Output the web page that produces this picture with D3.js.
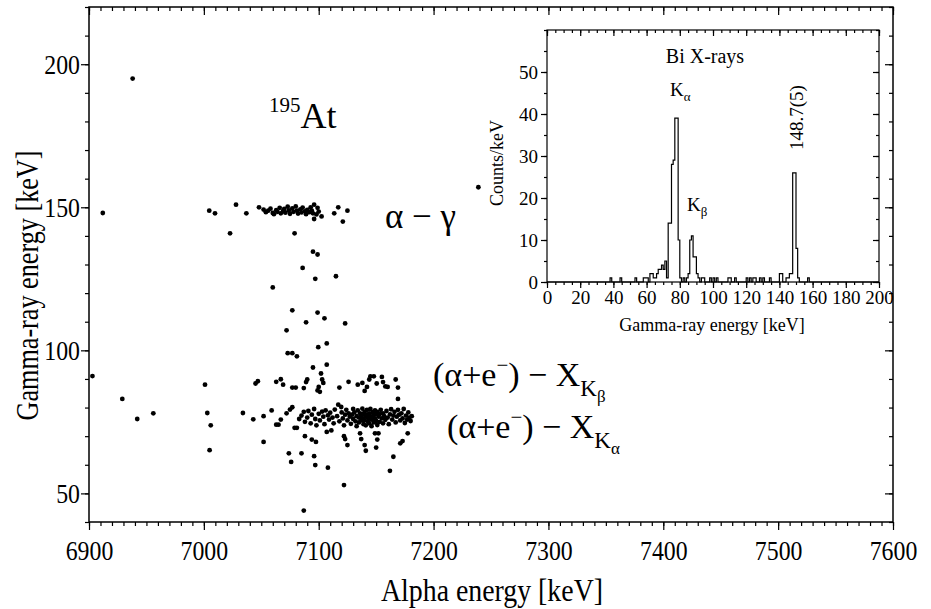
<!DOCTYPE html>
<html>
<head>
<meta charset="utf-8">
<script src="https://cdn.jsdelivr.net/npm/d3@7"></script>
<style>
  body { margin: 0; background: #fff; }
  svg { display: block; font-family: "Liberation Serif", "Times New Roman", serif; }
  .axis line { stroke: #000; stroke-width: 1.2; }
</style>
</head>
<body>
<svg id="chart" width="931" height="609"></svg>
<script>
// ---- data ----
// alpha-gamma coincidences: [alpha energy keV, gamma energy keV]
const isolatedEvents = [
  [6938, 195], [6912, 148], [6903, 91], [6929, 83], [6942, 76], [6956, 78], [7239, 157], [7087, 44]
];
const gammaLineEvents = [
  [7004.7, 148.8], [7009.7, 147.9], [7028, 150.9], [7037, 147.9], [7022.8, 140.9], [7048, 150],
  [7052, 149.2], [7054, 148.3], [7056, 148.8], [7058, 149.5], [7060, 148], [7061, 147.6],
  [7063, 149], [7064, 148.4], [7066, 149.8], [7067, 147.9], [7069, 148.7], [7070, 149.4],
  [7071, 148.1], [7073, 150.2], [7074, 148.9], [7075, 147.7], [7077, 149.6], [7078, 148.4],
  [7080, 150.3], [7081, 148.8], [7082, 147.8], [7084, 149.3], [7085, 148.2], [7086, 149.9],
  [7088, 148.6], [7089, 147.6], [7090, 149.1], [7092, 148.3], [7093, 150], [7094, 148.8],
  [7095, 147.9], [7096, 150.9], [7099, 149.8], [7102.5, 146.8], [7096, 145.9], [7117, 150],
  [7125, 148.8], [7113.5, 147.9], [7121, 145], [7100, 148.5], [7098, 147.5]
];
const middleEvents = [
  [7095, 134.5], [7099, 133.5], [7086, 128.8], [7097, 125], [7115, 125.9], [7060, 122],
  [7077, 114], [7099, 113.2], [7089, 109.8], [7105, 111.2], [7072, 107], [7123, 109.4],
  [7107, 102.4], [7079, 140.9], [7099.6, 101.1], [7073, 99], [7077, 99], [7081, 97.9],
  [7095, 94], [7107, 95], [7102, 91.9]
];
const kBetaEvents = [
  [7001, 88], [7045, 88.4], [7047, 89.2], [7063, 89], [7067, 89.9], [7069, 88], [7077, 87],
  [7080, 87], [7087, 86.8], [7089, 88.9], [7090, 89.8], [7099, 86], [7100, 87.2], [7103, 89.8],
  [7104, 88.6], [7101, 85.5], [7118, 87], [7126, 89], [7134, 88], [7138, 88.6], [7140, 85.8],
  [7142, 87.2], [7144, 89.8], [7145, 90.9], [7148, 90.9], [7150.5, 88.4], [7155, 90.7],
  [7156, 88.9], [7158, 87.4], [7160, 87.2], [7167, 89.8], [7169, 87], [7169, 83]
];
const kAlphaEvents = [
  [7003, 78.1], [7006, 73.8], [7034, 78.1], [7043, 75.9],
  [7052, 77], [7059, 79], [7063, 74], [7065, 74], [7067, 75.8], [7072, 78], [7075, 79.3],
  [7077, 80.1], [7079, 72.9], [7081, 72.9], [7083, 76], [7085, 77.2], [7087, 78.5], [7088, 75],
  [7090, 76.5], [7091, 78.8], [7093, 74.5], [7094, 77.5], [7096, 79.5], [7097, 76], [7098, 73.8],
  [7100, 77.8], [7101, 75.5], [7103, 78.6], [7104, 76.8], [7105, 74.2], [7106, 79], [7108, 77.3],
  [7109, 75.8], [7110, 78.2], [7112, 76.5], [7113, 74.5], [7114, 79.3], [7116, 77], [7117, 81],
  [7119.6, 80.2], [7118, 75.2], [7120, 78.3], [7121, 76.2], [7122, 73.8], [7123, 77.5],
  [7124, 79.2], [7125, 75.5], [7126, 78], [7127, 76.8], [7128, 74.3], [7129, 77.5], [7130, 79.5],
  [7130, 76], [7131, 78.3], [7132, 75.2], [7133, 77], [7133, 73.5], [7134, 79], [7135, 76.5],
  [7135, 74.8], [7136, 78], [7137, 77.2], [7137, 75.5], [7138, 79.6], [7138, 76.3], [7139, 74.2],
  [7139, 77.8], [7140, 75.5], [7140, 78.5], [7141, 76.8], [7141, 73.8], [7142, 77.5], [7142, 79.2],
  [7143, 75], [7143, 76.3], [7144, 78], [7144, 74.5], [7145, 77], [7145, 79.5], [7146, 75.8],
  [7146, 73.5], [7147, 78.4], [7147, 76.5], [7148, 77.2], [7148, 74.8], [7149, 79], [7149, 76],
  [7150, 77.8], [7150, 75.3], [7151, 78.5], [7151, 73.9], [7152, 76.8], [7153, 77.7], [7153, 75],
  [7154, 79.2], [7155, 76.2], [7156, 78], [7156, 74.5], [7157, 77], [7158, 75.7], [7159, 78.8],
  [7160, 76.5], [7161, 74.2], [7162, 77.6], [7163, 79.4], [7164, 75.8], [7165, 77.2], [7166, 78.5],
  [7167, 74.8], [7168, 76.8], [7169, 79.2], [7170, 77.5], [7171, 75.5], [7172, 78], [7173, 76.2],
  [7174, 79.5], [7175, 74.6], [7176, 77.2], [7177, 75.8], [7178, 78.3], [7179, 76.5], [7180, 75.3],
  [7181, 77]
];
const lowEvents = [
  [7005, 65.1], [7052, 68], [7074, 64], [7076, 61], [7088, 70], [7094, 68.8], [7097.6, 68],
  [7085, 64], [7096, 63], [7097, 59.9], [7108, 59], [7122, 52.9], [7122, 70], [7123, 69],
  [7125, 66.9], [7136, 71], [7137, 69], [7140, 66.9], [7141, 64.9], [7149, 71], [7152, 71],
  [7151, 68.8], [7150, 66], [7165, 62.8], [7162, 57.9], [7171, 67.5], [7173, 68.3], [7177.5, 71],
  [7111, 72], [7107, 71.5]
];

// Bi X-ray spectrum, 1 keV bins: lower bin edge and counts (empty bins left out)
const binEnergy = [38, 44, 53, 58, 59, 60, 62, 63, 64, 65, 66, 67, 68, 69, 70, 71, 72, 73, 74, 75, 76, 77, 78, 79, 80,
  82, 84, 85, 86, 87, 88, 89, 90, 91, 93, 94, 98, 100, 102, 109, 110, 113, 120, 122, 124, 125, 128, 130, 134,
  140, 141, 144, 145, 146, 147, 148, 149, 150, 151, 157];
const binCounts = [1, 1, 1, 1, 1, 1, 2, 2, 1, 1, 2, 3, 3, 4, 3, 5, 1, 14, 14, 28, 29, 39, 39, 10, 1,
  1, 1, 2, 10, 11, 6, 6, 2, 1, 1, 1, 1, 1, 1, 1, 1, 1, 1, 1, 1, 1, 1, 1, 1,
  2, 2, 1, 1, 2, 2, 26, 26, 8, 1, 1];

// tick labels
const alphaTicks = [6900, 7000, 7100, 7200, 7300, 7400, 7500, 7600];
const gammaTicks = [50, 100, 150, 200];
const insetXTicks = [0, 20, 40, 60, 80, 100, 120, 140, 160, 180, 200];
const insetYTicks = [0, 10, 20, 30, 40, 50];

// ---- layout ----
const serif = '"Liberation Serif", "Times New Roman", serif';
const svg = d3.select('#chart');
const main = { left: 89, right: 893, top: 7, bottom: 522 };
const inset = { left: 547, right: 879, top: 30, bottom: 282 };

const xScale = d3.scaleLinear().domain([6900, 7600]).range([main.left, main.right]);
const yScale = d3.scaleLinear().domain([40, 220]).range([main.bottom, main.top]);

// squeeze text horizontally, the original uses a narrow Times
function condense(sel, k) {
  sel.each(function () {
    const w = this.getComputedTextLength();
    d3.select(this).attr('textLength', w * k).attr('lengthAdjust', 'spacingAndGlyphs');
  });
}

// draws one axis and strips its domain path
function drawAxis(axis, tx, ty, fontSize) {
  const g = svg.append('g')
    .attr('class', 'axis')
    .attr('transform', `translate(${tx},${ty})`)
    .call(axis)
    .call(g => g.select('.domain').remove())
    .attr('font-family', serif)
    .attr('font-size', fontSize);
  g.selectAll('text').style('font-family', serif).style('font-size', fontSize + 'px').attr('fill', '#000');
  return g;
}

// main frame ticks: outward on bottom/left, inward on top/right
const alphaMinor = d3.range(6900, 7601, 10);
const gammaMinor = d3.range(40, 221, 10);
drawAxis(d3.axisBottom(xScale).tickValues(alphaMinor).tickSize(4).tickFormat(''), 0, main.bottom, 0);
drawAxis(d3.axisBottom(xScale).tickValues(alphaTicks).tickSize(8).tickPadding(6).tickFormat(d3.format('d')), 0, main.bottom, 28)
  .selectAll('text').attr('dy', '0.85em').call(condense, 0.85);
drawAxis(d3.axisTop(xScale).tickValues(alphaMinor).tickSize(-4).tickFormat(''), 0, main.top, 0);
drawAxis(d3.axisTop(xScale).tickValues(alphaTicks).tickSize(-8).tickFormat(''), 0, main.top, 0);
drawAxis(d3.axisLeft(yScale).tickValues(gammaMinor).tickSize(4).tickFormat(''), main.left, 0, 0);
drawAxis(d3.axisLeft(yScale).tickValues(gammaTicks).tickSize(8).tickPadding(1), main.left, 0, 28)
  .selectAll('text').call(condense, 0.85);
drawAxis(d3.axisRight(yScale).tickValues(gammaMinor).tickSize(-4).tickFormat(''), main.right, 0, 0);
drawAxis(d3.axisRight(yScale).tickValues(gammaTicks).tickSize(-8).tickFormat(''), main.right, 0, 0);

svg.append('rect')
  .attr('x', main.left).attr('y', main.top)
  .attr('width', main.right - main.left).attr('height', main.bottom - main.top)
  .attr('fill', 'none').attr('stroke', '#000').attr('stroke-width', 1.5);

// scatter points
const allEvents = [].concat(isolatedEvents, gammaLineEvents, middleEvents, kBetaEvents, kAlphaEvents, lowEvents);
svg.append('g').selectAll('circle')
  .data(allEvents)
  .join('circle')
  .attr('cx', d => xScale(d[0]))
  .attr('cy', d => yScale(d[1]))
  .attr('r', 2.4)
  .attr('fill', '#000');

// axis titles
svg.append('text')
  .attr('x', (main.left + main.right) / 2 + 1).attr('y', 601)
  .attr('text-anchor', 'middle')
  .style('font-size', '31px')
  .attr('textLength', 222).attr('lengthAdjust', 'spacingAndGlyphs')
  .text('Alpha energy [keV]');
svg.append('text')
  .attr('transform', `translate(38,${(main.top + main.bottom) / 2 + 21}) rotate(-90)`)
  .attr('text-anchor', 'middle')
  .style('font-size', '31px')
  .attr('textLength', 270).attr('lengthAdjust', 'spacingAndGlyphs')
  .text('Gamma-ray energy [keV]');

// annotations in the main panel
const at = svg.append('text').attr('x', 269).attr('y', 128).style('font-size', '36px');
at.append('tspan').attr('dy', -16).style('font-size', '21px').text('195');
at.append('tspan').attr('dy', 16).text('At');

svg.append('text').attr('x', 385).attr('y', 228).style('font-size', '35px').text('α − γ');

function xRayLabel(x, y, sub) {
  const t = svg.append('text').attr('x', x).attr('y', y).style('font-size', '34px');
  t.append('tspan').text('(α+e');
  t.append('tspan').attr('dy', -14).style('font-size', '21px').text('−');
  t.append('tspan').attr('dy', 14).text(') − X');
  t.append('tspan').attr('dy', 10).style('font-size', '23px').text('K');
  t.append('tspan').attr('dy', 6).style('font-size', '17px').text(sub);
}
xRayLabel(433, 386, 'β');
xRayLabel(447, 438, 'α');

// ---- inset spectrum ----
svg.append('rect')
  .attr('x', inset.left).attr('y', inset.top)
  .attr('width', inset.right - inset.left).attr('height', inset.bottom - inset.top)
  .attr('fill', '#fff');

const hx = d3.scaleLinear().domain([0, 200]).range([inset.left, inset.right]);
const hy = d3.scaleLinear().domain([0, 60]).range([inset.bottom, inset.top]);

const xMinorIn = d3.range(0, 201, 5);
const yMinorIn = d3.range(0, 61, 5);
drawAxis(d3.axisBottom(hx).tickValues(xMinorIn).tickSize(3).tickFormat(''), 0, inset.bottom, 0);
drawAxis(d3.axisBottom(hx).tickValues(insetXTicks).tickSize(6).tickPadding(3), 0, inset.bottom, 19);
drawAxis(d3.axisTop(hx).tickValues(xMinorIn).tickSize(-3).tickFormat(''), 0, inset.top, 0);
drawAxis(d3.axisTop(hx).tickValues(insetXTicks).tickSize(-6).tickFormat(''), 0, inset.top, 0);
drawAxis(d3.axisLeft(hy).tickValues(yMinorIn).tickSize(3).tickFormat(''), inset.left, 0, 0);
drawAxis(d3.axisLeft(hy).tickValues(insetYTicks).tickSize(6).tickPadding(3), inset.left, 0, 19);
drawAxis(d3.axisRight(hy).tickValues(yMinorIn).tickSize(-3).tickFormat(''), inset.right, 0, 0);
drawAxis(d3.axisRight(hy).tickValues(insetYTicks).tickSize(-6).tickFormat(''), inset.right, 0, 0);

// fill empty bins so the step line runs along zero between peaks
const countByBin = new Map(binEnergy.map((e, i) => [e, binCounts[i]]));
const spectrum = d3.range(0, 201).map(e => ({ e: e, c: countByBin.get(e) || 0 }));
svg.append('path')
  .datum(spectrum)
  .attr('fill', 'none')
  .attr('stroke', '#000')
  .attr('stroke-width', 1.2)
  .attr('d', d3.line().x(d => hx(d.e)).y(d => hy(d.c)).curve(d3.curveStepAfter));

svg.append('rect')
  .attr('x', inset.left).attr('y', inset.top)
  .attr('width', inset.right - inset.left).attr('height', inset.bottom - inset.top)
  .attr('fill', 'none').attr('stroke', '#000').attr('stroke-width', 1.2);

// inset labels
svg.append('text').attr('x', (inset.left + inset.right) / 2 - 1).attr('y', 331)
  .attr('text-anchor', 'middle').style('font-size', '18px').text('Gamma-ray energy [keV]');
svg.append('text').attr('transform', `translate(503,${(inset.top + inset.bottom) / 2 + 7}) rotate(-90)`)
  .attr('text-anchor', 'middle').style('font-size', '18px').text('Counts/keV');
svg.append('text').attr('x', 705).attr('y', 63).attr('text-anchor', 'middle')
  .style('font-size', '20px').text('Bi X-rays');

function kLabel(x, y, sub) {
  const t = svg.append('text').attr('x', x).attr('y', y).style('font-size', '19px');
  t.append('tspan').text('K');
  t.append('tspan').attr('dy', 5).style('font-size', '13px').text(sub);
}
kLabel(670, 96, 'α');
kLabel(687, 211, 'β');

svg.append('text').attr('transform', 'translate(803,150) rotate(-90)')
  .style('font-size', '19px').text('148.7(5)');
</script>
</body>
</html>
